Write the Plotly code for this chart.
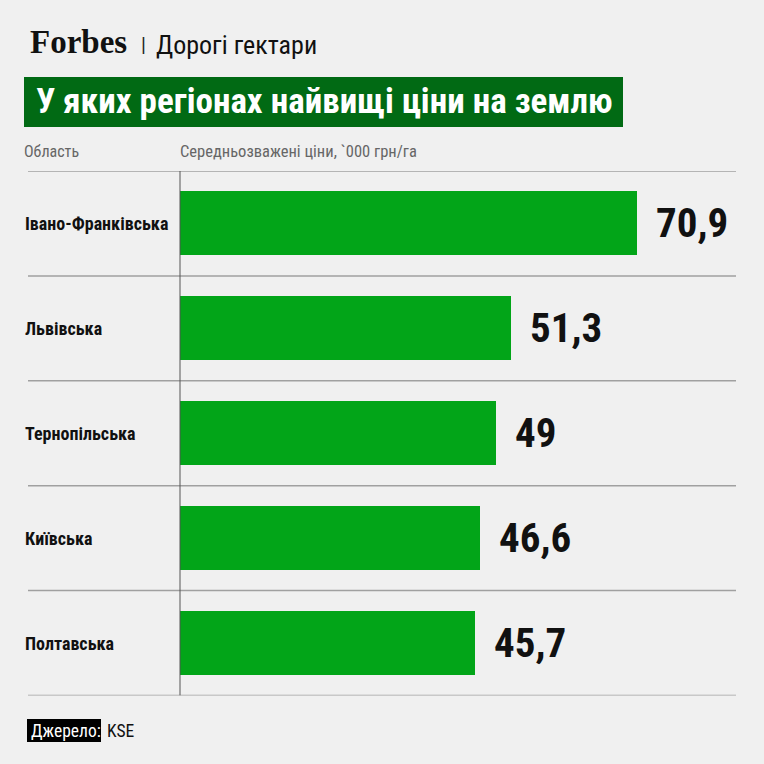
import plotly.graph_objects as go

# дані
regions = ["Івано-Франківська", "Львівська", "Тернопільська", "Київська", "Полтавська"]
prices = [70.9, 51.3, 49, 46.6, 45.7]
value_labels = ["70,9", "51,3", "49", "46,6", "45,7"]

W = H = 764
NARROW = "Roboto Condensed, Liberation Sans Narrow, sans-serif"
BG = "#f0f0f0"


def px_x(p):
    return p / W


def px_y(p):
    return 1 - p / H


fig = go.Figure()
fig.add_trace(go.Bar(
    x=prices, y=regions, orientation="h",
    marker=dict(color="#02a518", line=dict(width=0)),
    width=0.61, hoverinfo="x+y",
))

fig.update_layout(
    width=W, height=H,
    margin=dict(l=0, r=0, t=0, b=0),
    paper_bgcolor=BG, plot_bgcolor=BG,
    showlegend=False,
    bargap=0,
    xaxis=dict(domain=[px_x(180), 1], range=[0, 584 / 6.446],
               visible=False, fixedrange=True),
    yaxis=dict(domain=[px_y(695.5), px_y(171)], range=[4.5, -0.5],
               categoryorder="array", categoryarray=regions,
               showticklabels=False, showgrid=False, zeroline=False,
               fixedrange=True),
)

shapes = []
# горизонтальні лінії між рядками
for i in range(len(regions) + 1):
    shapes.append(dict(type="line", xref="paper", yref="y",
                       x0=px_x(28), x1=px_x(736), y0=i - 0.5, y1=i - 0.5,
                       line=dict(color="#a0a0a0", width=1.5)))
# вертикальна вісь
shapes.append(dict(type="line", xref="paper", yref="y",
                   x0=px_x(180), x1=px_x(180), y0=-0.5, y1=len(regions) - 0.5,
                   line=dict(color="#555555", width=1)))
# зелена плашка заголовка
shapes.append(dict(type="rect", xref="paper", yref="paper",
                   x0=px_x(24), x1=px_x(623), y0=px_y(127), y1=px_y(77),
                   fillcolor="#016a14", line=dict(width=0), layer="below"))
# чорна плашка джерела
shapes.append(dict(type="rect", xref="paper", yref="paper",
                   x0=px_x(27), x1=px_x(101), y0=px_y(742), y1=px_y(719),
                   fillcolor="#000000", line=dict(width=0)))
fig.update_layout(shapes=shapes)

ann = []
ann.append(dict(text="<b>Forbes</b>", x=px_x(28), y=px_y(42), xref="paper", yref="paper",
                xanchor="left", yanchor="middle", showarrow=False,
                font=dict(family="Liberation Serif, DejaVu Serif, serif", size=33, color="#111")))
ann.append(dict(text="|", x=px_x(139), y=px_y(45), xref="paper", yref="paper",
                xanchor="left", yanchor="middle", showarrow=False,
                font=dict(family=NARROW, size=20, color="#222")))
ann.append(dict(text="Дорогі гектари", x=px_x(154), y=px_y(45), xref="paper", yref="paper",
                xanchor="left", yanchor="middle", showarrow=False,
                font=dict(family=NARROW, size=26, color="#111")))
ann.append(dict(text="<b>У яких регіонах найвищі ціни на землю</b>", x=px_x(34), y=px_y(102),
                xref="paper", yref="paper", xanchor="left", yanchor="middle", showarrow=False,
                font=dict(family=NARROW, size=35, color="white")))
ann.append(dict(text="Область", x=px_x(22), y=px_y(151), xref="paper", yref="paper",
                xanchor="left", yanchor="middle", showarrow=False,
                font=dict(family=NARROW, size=16, color="#666")))
ann.append(dict(text="Середньозважені ціни, `000 грн/га", x=px_x(178), y=px_y(151),
                xref="paper", yref="paper", xanchor="left", yanchor="middle", showarrow=False,
                font=dict(family=NARROW, size=16.5, color="#666")))

for reg, val, lab in zip(regions, prices, value_labels):
    ann.append(dict(text="<b>" + reg + "</b>", x=px_x(23), y=reg, xref="paper", yref="y",
                    xanchor="left", yanchor="middle", showarrow=False,
                    font=dict(family=NARROW, size=18, color="#111")))
    ann.append(dict(text="<b>" + lab + "</b>", x=val, y=reg, xref="x", yref="y",
                    xanchor="left", yanchor="middle", showarrow=False, xshift=17,
                    font=dict(family=NARROW, size=41, color="#111")))

ann.append(dict(text="Джерело:", x=px_x(29), y=px_y(731), xref="paper", yref="paper",
                xanchor="left", yanchor="middle", showarrow=False,
                font=dict(family=NARROW, size=17.5, color="white")))
ann.append(dict(text="KSE", x=px_x(105), y=px_y(731), xref="paper", yref="paper",
                xanchor="left", yanchor="middle", showarrow=False,
                font=dict(family=NARROW, size=17.5, color="#111")))
fig.update_layout(annotations=ann)

fig.write_html("out.html", config={"displayModeBar": False},
               post_script="document.body.style.margin='0';")
